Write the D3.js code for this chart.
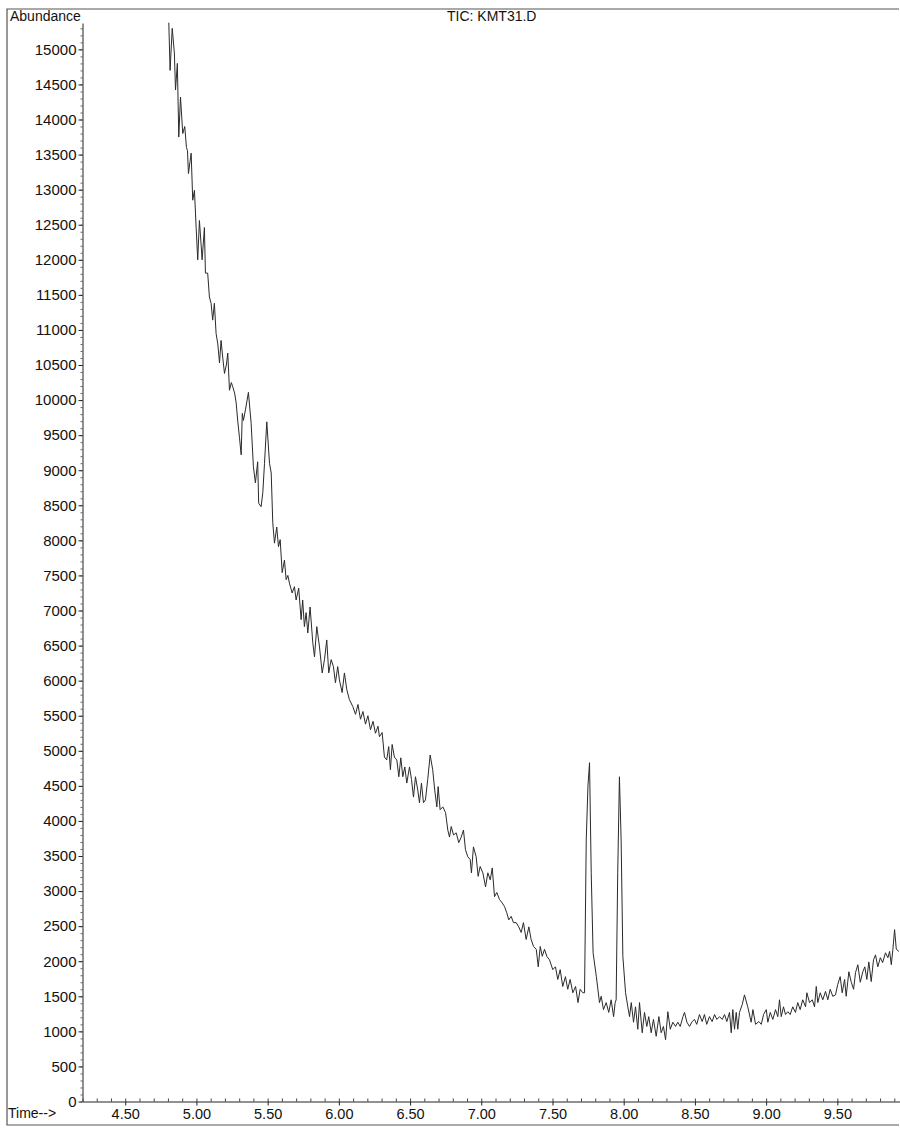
<!DOCTYPE html>
<html>
<head>
<meta charset="utf-8">
<script src="https://cdn.jsdelivr.net/npm/d3@7"></script>
<style>
  html, body { margin: 0; padding: 0; background: #fff; }
  svg { display: block; }
  text { font-family: "Liberation Sans", Arial, sans-serif; fill: #111; }
</style>
</head>
<body>
<svg id="chart" width="900" height="1128"></svg>
<script>
// ---- data ----
const title = "TIC: KMT31.D";
const yLabel = "Abundance";
const xLabel = "Time-->";

const xTickValues = [4.5, 5.0, 5.5, 6.0, 6.5, 7.0, 7.5, 8.0, 8.5, 9.0, 9.5];
const yTickValues = [0, 500, 1000, 1500, 2000, 2500, 3000, 3500, 4000, 4500, 5000, 5500,
  6000, 6500, 7000, 7500, 8000, 8500, 9000, 9500, 10000, 10500, 11000, 11500, 12000,
  12500, 13000, 13500, 14000, 14500, 15000];

const times = [
  4.806, 4.815, 4.830, 4.845, 4.853, 4.866, 4.876, 4.888, 4.904, 4.918,
  4.930, 4.937, 4.944, 4.955, 4.963, 4.974, 4.986, 4.998, 5.009, 5.021,
  5.040, 5.056, 5.063, 5.079, 5.091, 5.103, 5.114, 5.126, 5.138, 5.150,
  5.162, 5.173, 5.185, 5.197, 5.210, 5.220, 5.232, 5.245, 5.255, 5.268,
  5.279, 5.290, 5.302, 5.314, 5.322, 5.330, 5.344, 5.365, 5.384, 5.400,
  5.414, 5.430, 5.437, 5.454, 5.466, 5.478, 5.494, 5.513, 5.525, 5.536,
  5.548, 5.564, 5.576, 5.588, 5.602, 5.618, 5.630, 5.642, 5.653, 5.672,
  5.688, 5.700, 5.718, 5.735, 5.746, 5.758, 5.770, 5.782, 5.798, 5.817,
  5.829, 5.845, 5.864, 5.883, 5.899, 5.915, 5.929, 5.946, 5.962, 5.976,
  5.992, 6.004, 6.023, 6.039, 6.056, 6.074, 6.098, 6.117, 6.134, 6.152,
  6.169, 6.187, 6.204, 6.222, 6.240, 6.257, 6.275, 6.285, 6.304, 6.320,
  6.336, 6.350, 6.362, 6.374, 6.390, 6.407, 6.421, 6.435, 6.449, 6.463,
  6.477, 6.496, 6.510, 6.524, 6.538, 6.554, 6.566, 6.580, 6.594, 6.608,
  6.624, 6.641, 6.659, 6.673, 6.688, 6.697, 6.711, 6.730, 6.749, 6.765,
  6.777, 6.789, 6.805, 6.824, 6.842, 6.859, 6.875, 6.889, 6.905, 6.922,
  6.931, 6.945, 6.964, 6.978, 6.992, 7.011, 7.030, 7.046, 7.063, 7.077,
  7.093, 7.109, 7.128, 7.147, 7.163, 7.179, 7.193, 7.210, 7.226, 7.245,
  7.263, 7.280, 7.296, 7.315, 7.334, 7.350, 7.367, 7.386, 7.400, 7.414,
  7.428, 7.444, 7.460, 7.479, 7.502, 7.521, 7.537, 7.554, 7.572, 7.591,
  7.607, 7.624, 7.643, 7.662, 7.679, 7.694, 7.713, 7.725, 7.737, 7.749,
  7.760, 7.772, 7.785, 7.808, 7.830, 7.842, 7.858, 7.877, 7.895, 7.912,
  7.929, 7.940, 7.947, 7.958, 7.970, 7.982, 7.994, 8.013, 8.029, 8.041,
  8.053, 8.069, 8.083, 8.099, 8.111, 8.130, 8.146, 8.162, 8.176, 8.193,
  8.209, 8.228, 8.247, 8.263, 8.279, 8.294, 8.310, 8.327, 8.345, 8.364,
  8.380, 8.397, 8.416, 8.427, 8.444, 8.462, 8.481, 8.497, 8.513, 8.532,
  8.551, 8.567, 8.583, 8.602, 8.621, 8.638, 8.654, 8.673, 8.692, 8.708,
  8.724, 8.743, 8.755, 8.766, 8.778, 8.790, 8.801, 8.813, 8.832, 8.848,
  8.871, 8.895, 8.907, 8.926, 8.949, 8.966, 8.982, 9.001, 9.012, 9.029,
  9.047, 9.066, 9.082, 9.094, 9.106, 9.122, 9.136, 9.152, 9.169, 9.187,
  9.206, 9.222, 9.239, 9.257, 9.277, 9.286, 9.305, 9.324, 9.340, 9.352,
  9.363, 9.380, 9.398, 9.417, 9.433, 9.450, 9.468, 9.487, 9.503, 9.520,
  9.534, 9.551, 9.562, 9.581, 9.598, 9.614, 9.628, 9.644, 9.661, 9.679,
  9.693, 9.707, 9.721, 9.738, 9.754, 9.768, 9.784, 9.802, 9.818, 9.838,
  9.855, 9.867, 9.879, 9.890, 9.902, 9.914, 9.932
];

const abundance = [
  15380, 14700, 15300, 14950, 14420, 14800, 13750, 14320, 13800, 13900,
  13600, 13560, 13230, 13400, 13520, 12850, 12990, 12460, 12000, 12560,
  12000, 12460, 11810, 11810, 11470, 11380, 11140, 11380, 10950, 10800,
  10530, 10850, 10600, 10380, 10500, 10670, 10140, 10250, 10190, 10100,
  9960, 9700, 9470, 9220, 9810, 9710, 9860, 10110, 9670, 9050,
  8820, 9120, 8530, 8480, 8680, 9100, 9690, 9100, 8960, 8250,
  7960, 8190, 7910, 8010, 7540, 7720, 7440, 7500, 7390, 7250,
  7340, 7150, 7320, 6870, 7150, 6770, 6970, 6680, 7050, 6540,
  6340, 6770, 6480, 6110, 6300, 6580, 6110, 6300, 6200, 5970,
  6200, 6010, 5830, 6110, 5870, 5730, 5630, 5520, 5660, 5450,
  5560, 5380, 5500, 5300, 5420, 5250, 5350, 5200, 5260, 4910,
  4870, 5060, 4730, 5090, 4910, 4870, 4630, 4900, 4630, 4770,
  4540, 4770, 4590, 4340, 4630, 4440, 4260, 4540, 4260, 4300,
  4590, 4940, 4730, 4440, 4200, 4490, 4160, 4200, 4120, 3870,
  3770, 3920, 3800, 3830, 3690, 3770, 3870, 3590, 3490, 3450,
  3260, 3630, 3490, 3210, 3350, 3260, 3060, 3260, 3160, 3330,
  2920, 2980, 2880, 2830, 2780, 2690, 2590, 2640, 2550, 2550,
  2490, 2410, 2550, 2310, 2490, 2310, 2210, 2170, 1920, 2210,
  2070, 2170, 2070, 2020, 1880, 1920, 1740, 1880, 1640, 1780,
  1600, 1740, 1550, 1640, 1410, 1600, 1550, 1550, 3730, 4500,
  4830, 3260, 2120, 1780, 1410, 1500, 1310, 1410, 1270, 1450,
  1210, 1410, 1450, 3260, 4630, 3730, 2070, 1550, 1350, 1210,
  1410, 1130, 1350, 1030, 1410, 980, 1270, 1070, 1210, 980,
  1170, 930, 1210, 980, 1070, 880, 1280, 1030, 1130, 1070,
  1130, 1070, 1210, 1270, 1130, 1070, 1140, 1170, 1100, 1240,
  1140, 1240, 1100, 1210, 1140, 1240, 1170, 1210, 1170, 1240,
  1140, 1270, 980, 1310, 1030, 1270, 1030, 1270, 1380, 1520,
  1350, 1130, 1310, 1100, 1140, 1100, 1240, 1310, 1130, 1270,
  1170, 1310, 1210, 1450, 1210, 1350, 1240, 1280, 1240, 1350,
  1270, 1410, 1310, 1450, 1350, 1550, 1410, 1450, 1350, 1640,
  1410, 1550, 1450, 1570, 1450, 1600, 1500, 1520, 1670, 1780,
  1550, 1740, 1500, 1850, 1700, 1600, 1840, 1950, 1700, 1850,
  1920, 1740, 1990, 1710, 2020, 2090, 1920, 2050, 1980, 2120,
  2050, 2140, 1950, 2170, 2450, 2170, 2140
];

// ---- drawing ----
const svg = d3.select("#chart");
const x = d3.scaleLinear().domain([4.2, 9.94]).range([82.5, 900]);
const y = d3.scaleLinear().domain([0, 15376]).range([1101.5, 23]);

// scanned-page frame
svg.append("path")
  .attr("d", "M899,9 L7,9 L7,1125 L899,1125")
  .attr("fill", "none").attr("stroke", "#555").attr("stroke-width", 1.2);

// minor y ticks
svg.append("g")
  .attr("transform", `translate(${x(4.2)},0)`)
  .call(d3.axisLeft(y).tickValues(d3.range(0, 15400, 100)).tickSize(2).tickFormat(""))
  .call(g => g.select(".domain").remove())
  .call(g => g.selectAll("line").attr("stroke", "#666"));

// major y axis
svg.append("g")
  .attr("transform", `translate(${x(4.2)},0)`)
  .call(d3.axisLeft(y).tickValues(yTickValues).tickSize(4).tickSizeOuter(0).tickPadding(2).tickFormat(d3.format("d")))
  .call(g => g.select(".domain").attr("stroke", "#222"))
  .call(g => g.selectAll("line").attr("stroke", "#222"))
  .call(g => g.selectAll("text").style("font-size", "15px").attr("fill", "#111")
    .style("font-family", "'Liberation Sans', Arial, sans-serif"));

// minor x ticks (pointing up into the plot)
svg.append("g")
  .attr("transform", `translate(0,${y(0)})`)
  .call(d3.axisTop(x).tickValues(d3.range(4.2, 9.95, 0.1)).tickSize(3).tickFormat(""))
  .call(g => g.select(".domain").remove())
  .call(g => g.selectAll("line").attr("stroke", "#444"));

// major x axis
svg.append("g")
  .attr("transform", `translate(0,${y(0)})`)
  .call(d3.axisBottom(x).tickValues(xTickValues).tickSize(4).tickSizeOuter(0).tickPadding(3).tickFormat(d3.format(".2f")))
  .call(g => g.select(".domain").attr("stroke", "#222"))
  .call(g => g.selectAll("line").attr("stroke", "#222"))
  .call(g => g.selectAll("text").style("font-size", "14.5px").attr("fill", "#111")
    .style("font-family", "'Liberation Sans', Arial, sans-serif"));

// trace
const pts = times.map((t, i) => [t, abundance[i]]);
svg.append("path")
  .datum(pts)
  .attr("fill", "none")
  .attr("stroke", "#2a2a2a")
  .attr("stroke-width", 1)
  .attr("stroke-linejoin", "miter")
  .attr("d", d3.line().x(d => x(d[0])).y(d => y(d[1])));

// labels
svg.append("text").attr("x", 10).attr("y", 21).style("font-size", "14px").text(yLabel);
svg.append("text").attr("x", 447).attr("y", 21).style("font-size", "14px").text(title);
svg.append("text").attr("x", 8).attr("y", 1118).style("font-size", "14px").text(xLabel);
</script>
</body>
</html>
